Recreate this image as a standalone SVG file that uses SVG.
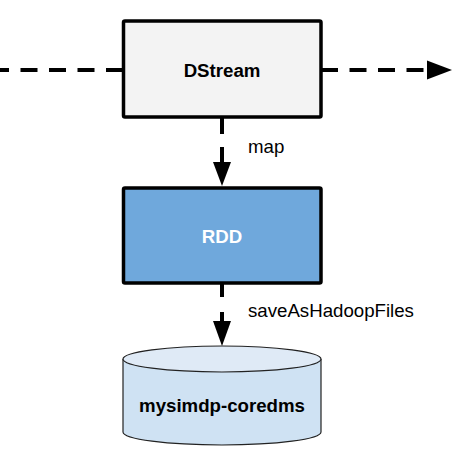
<svg xmlns="http://www.w3.org/2000/svg" width="456" height="456" viewBox="0 0 456 456">
<style>
.box{stroke:#000;stroke-width:3.5}
.lbl{font-family:"Liberation Sans",Arial,sans-serif;font-size:18.67px}
.b{font-weight:bold;text-anchor:middle}
.edge{stroke:#000;stroke-width:4;fill:none}
.dash{stroke-dasharray:17 11.5}
</style>
<defs>
<marker id="ah" markerWidth="6" markerHeight="5" refX="6" refY="2.5" orient="auto" markerUnits="strokeWidth">
<path d="M0,0 L6,2.5 L0,5 Z" fill="#000"/>
</marker>
</defs>
<rect width="456" height="456" fill="#fff"/>
<g id="connectors">
<path class="edge dash" d="M123,70 H-5.5" />
<path class="edge dash" d="M321,70 H427" />
<path d="M427,60.5 L452,70 L427,79.5 Z" fill="#000"/>
<path class="edge" d="M222,117 V134" />
<path class="edge" d="M222,147 V163" />
<path d="M213,162 L231,162 L222,186 Z" fill="#000"/>
<path class="edge" d="M222,283 V297" />
<path class="edge" d="M222,312 V322" />
<path d="M213,321 L231,321 L222,346 Z" fill="#000"/>
<text class="lbl" x="248" y="153">map</text>
<text class="lbl" x="248" y="317">saveAsHadoopFiles</text>
</g>
<g id="dstream">
<rect class="box" x="123.5" y="21" width="197.5" height="96" rx="1.5" fill="#f3f3f3"/>
<text class="lbl b" x="222" y="77">DStream</text>
</g>
<g id="rdd">
<rect class="box" x="123.5" y="188" width="197.5" height="95" rx="1.5" fill="#6fa8dc"/>
<text class="lbl b" x="222" y="243" fill="#fff">RDD</text>
</g>
<g id="coredms">
<path d="M123,359 V432 A99,13 0 0 0 321,432 V359" fill="#cfe2f3" stroke="#222" stroke-width="1.2"/>
<ellipse cx="222" cy="359" rx="99" ry="13" fill="#dfeaf6" stroke="#222" stroke-width="1.2"/>
<text class="lbl b" x="222" y="412">mysimdp-coredms</text>
</g>
</svg>
